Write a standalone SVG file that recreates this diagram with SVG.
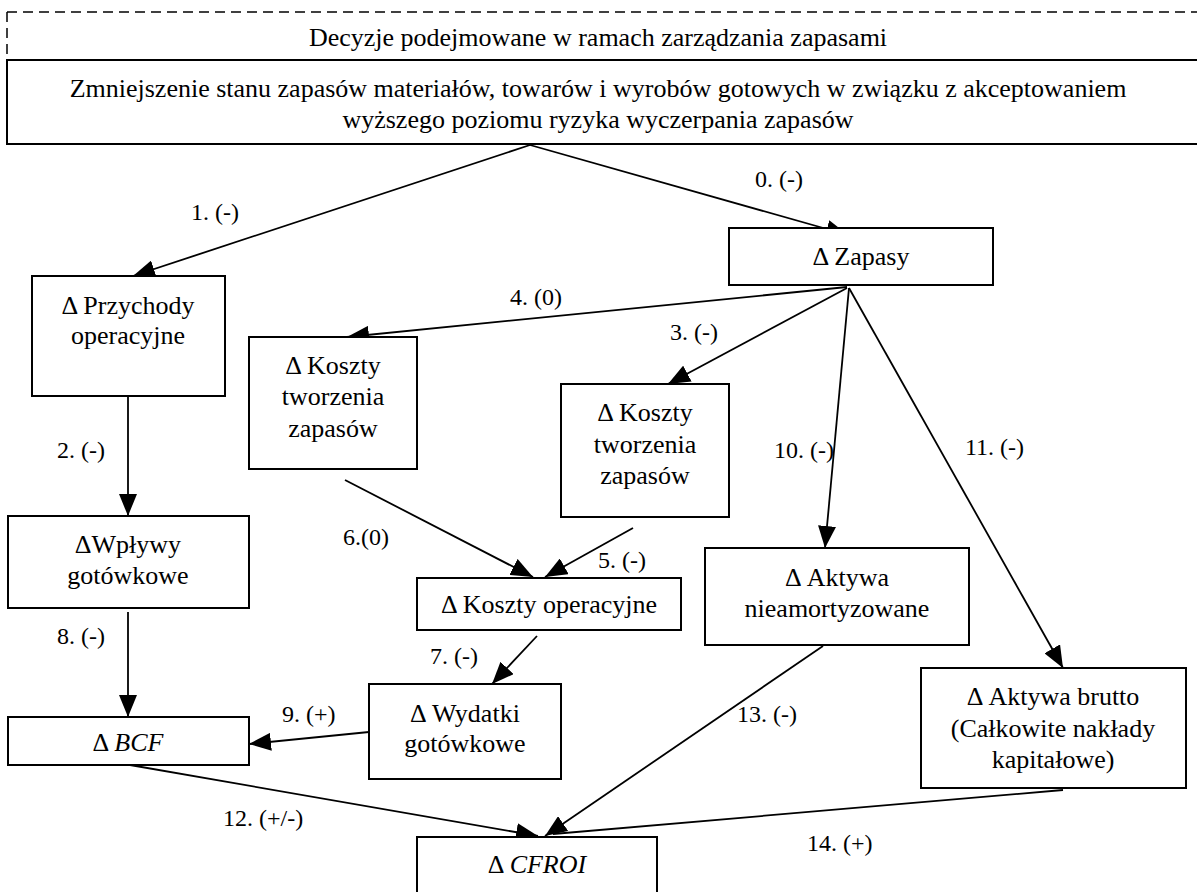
<svg xmlns="http://www.w3.org/2000/svg" width="1197" height="892" viewBox="0 0 1197 892">
  <style>
    .box { fill: #fff; stroke: #000; stroke-width: 2; }
    .t { font-family: "Liberation Serif", "Times New Roman", serif; font-size: 26px; fill: #000; text-anchor: middle; }
    .lbl { font-family: "Liberation Serif", "Times New Roman", serif; font-size: 24px; fill: #000; }
    .edge { stroke: #000; stroke-width: 1.8; fill: none; }
    .arr { marker-end: url(#head); }
  </style>
  <defs>
    <marker id="head" viewBox="0 0 22 18" refX="22" refY="9" markerWidth="22" markerHeight="18" markerUnits="userSpaceOnUse" orient="auto">
      <path d="M0,0 L22,9 L0,18 Z" fill="#000"/>
    </marker>
  </defs>
  <rect width="1197" height="892" fill="#fff"/>

  <!-- header frame -->
  <g id="header">
    <path d="M7,12 H1197 M7,12 V60" stroke="#000" stroke-width="1.5" stroke-dasharray="10 6" fill="none"/>
    <text class="t" x="598" y="46">Decyzje podejmowane w ramach zarządzania zapasami</text>
  </g>

  <g id="decision">
    <path d="M1200,60 H7 V144 H1200" stroke="#000" stroke-width="2" fill="#fff"/>
    <text class="t" x="598" y="97">Zmniejszenie stanu zapasów materiałów, towarów i wyrobów gotowych w związku z akceptowaniem</text>
    <text class="t" x="598" y="128">wyższego poziomu ryzyka wyczerpania zapasów</text>
  </g>

  <!-- connectors -->
  <g id="connectors">
    <line class="edge arr" x1="530" y1="145" x2="848" y2="235"/>
    <line class="edge arr" x1="530" y1="145" x2="133" y2="276"/>
    <line class="edge arr" x1="128" y1="396" x2="128" y2="516"/>
    <line class="edge arr" x1="847" y1="288" x2="668" y2="384"/>
    <line class="edge arr" x1="847" y1="287" x2="347" y2="337"/>
    <line class="edge arr" x1="633" y1="528" x2="545" y2="577"/>
    <line class="edge arr" x1="345" y1="480" x2="533" y2="577"/>
    <line class="edge arr" x1="537" y1="636" x2="492" y2="684"/>
    <line class="edge arr" x1="128" y1="612" x2="128" y2="717"/>
    <line class="edge arr" x1="369" y1="732" x2="249" y2="744"/>
    <line class="edge arr" x1="849" y1="288" x2="825" y2="548"/>
    <line class="edge arr" x1="849" y1="288" x2="1063" y2="668"/>
    <line class="edge arr" x1="130" y1="765" x2="538" y2="836"/>
    <line class="edge arr" x1="823" y1="646" x2="545" y2="836"/>
    <line class="edge" x1="1063" y1="790" x2="553" y2="834"/>
  </g>

  <!-- connector labels -->
  <g id="labels">
    <text class="lbl" x="755" y="187">0. (-)</text>
    <text class="lbl" x="191" y="220">1. (-)</text>
    <text class="lbl" x="57" y="458">2. (-)</text>
    <text class="lbl" x="670" y="340">3. (-)</text>
    <text class="lbl" x="510" y="305">4. (0)</text>
    <text class="lbl" x="598" y="568">5. (-)</text>
    <text class="lbl" x="343" y="545">6.(0)</text>
    <text class="lbl" x="430" y="664">7. (-)</text>
    <text class="lbl" x="57" y="644">8. (-)</text>
    <text class="lbl" x="282" y="722">9. (+)</text>
    <text class="lbl" x="774" y="458">10. (-)</text>
    <text class="lbl" x="965" y="455">11. (-)</text>
    <text class="lbl" x="223" y="826">12. (+/-)</text>
    <text class="lbl" x="737" y="722">13. (-)</text>
    <text class="lbl" x="807" y="851">14. (+)</text>
  </g>

  <!-- nodes -->
  <g id="zapasy">
    <rect class="box" x="729" y="228" width="264" height="57"/>
    <text class="t" x="861" y="265">Δ Zapasy</text>
  </g>
  <g id="przychody">
    <rect class="box" x="32" y="276" width="193" height="120"/>
    <text class="t" x="128" y="314">Δ Przychody</text>
    <text class="t" x="128" y="344">operacyjne</text>
  </g>
  <g id="koszty-tworzenia-1">
    <rect class="box" x="249" y="337" width="168" height="132"/>
    <text class="t" x="333" y="374">Δ Koszty</text>
    <text class="t" x="333" y="405">tworzenia</text>
    <text class="t" x="333" y="437">zapasów</text>
  </g>
  <g id="koszty-tworzenia-2">
    <rect class="box" x="561" y="384" width="168" height="133"/>
    <text class="t" x="645" y="421">Δ Koszty</text>
    <text class="t" x="645" y="453">tworzenia</text>
    <text class="t" x="645" y="484">zapasów</text>
  </g>
  <g id="wplywy">
    <rect class="box" x="8" y="516" width="241" height="92"/>
    <text class="t" x="128" y="553">ΔWpływy</text>
    <text class="t" x="128" y="584">gotówkowe</text>
  </g>
  <g id="koszty-operacyjne">
    <rect class="box" x="417" y="578" width="264" height="52"/>
    <text class="t" x="549" y="613">Δ Koszty operacyjne</text>
  </g>
  <g id="aktywa-nieamortyzowane">
    <rect class="box" x="705" y="548" width="264" height="97"/>
    <text class="t" x="837" y="586">Δ Aktywa</text>
    <text class="t" x="837" y="617">nieamortyzowane</text>
  </g>
  <g id="wydatki">
    <rect class="box" x="369" y="684" width="192" height="95"/>
    <text class="t" x="465" y="722">Δ Wydatki</text>
    <text class="t" x="465" y="752">gotówkowe</text>
  </g>
  <g id="bcf">
    <rect class="box" x="8" y="717" width="241" height="48"/>
    <text class="t" x="128" y="751">Δ <tspan font-style="italic">BCF</tspan></text>
  </g>
  <g id="aktywa-brutto">
    <rect class="box" x="921" y="668" width="265" height="120"/>
    <text class="t" x="1053" y="705">Δ Aktywa brutto</text>
    <text class="t" x="1053" y="737">(Całkowite nakłady</text>
    <text class="t" x="1053" y="768">kapitałowe)</text>
  </g>
  <g id="cfroi">
    <rect class="box" x="417" y="837" width="240" height="60"/>
    <text class="t" x="537" y="873">Δ <tspan font-style="italic">CFROI</tspan></text>
  </g>
</svg>
